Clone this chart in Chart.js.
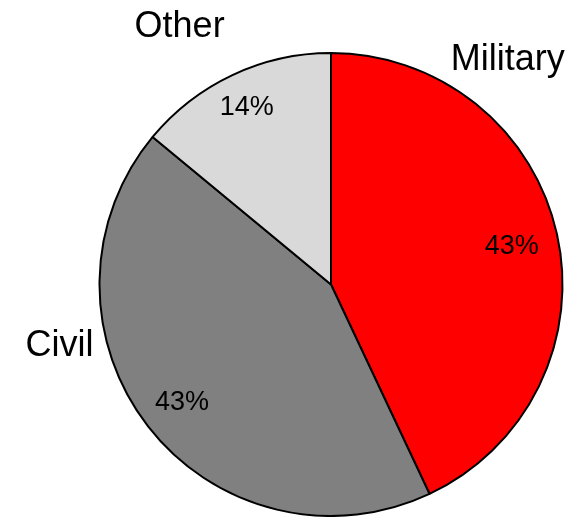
<!DOCTYPE html>
<html>
<head>
<meta charset="utf-8">
<script src="https://cdn.jsdelivr.net/npm/chart.js@4.4.1/dist/chart.umd.min.js"></script>
<style>
    html, body { margin: 0; padding: 0; background: #fff; }
    #wrap { width: 585px; height: 517px; }
</style>
</head>
<body>
<div id="wrap"><canvas id="chart" width="585" height="517"></canvas></div>
<script>
const categories = ["Military", "Civil", "Other"];
const shares = [43, 43, 14];
const colors = ["#ff0000", "#808080", "#d9d9d9"];

// where the category names sit: angle (deg, clockwise from top) and distance as a fraction of the radius
const namePlacement = [[37.8, 1.245], [257.8, 1.2], [329.8, 1.3]];
// distance of the percentage from the centre, fraction of the radius
const pctDistance = [0.80, 0.815, 0.855];

// draw text vertically centred on its cap height
function capText(ctx, text, x, y, size) {
    ctx.font = size + "px 'Liberation Sans', Arial, sans-serif";
    ctx.fillText(text, x, y + size * 0.358);
}

const sliceLabels = {
    id: "sliceLabels",
    afterDatasetsDraw(chart) {
        const ctx = chart.ctx;
        const meta = chart.getDatasetMeta(0);
        const total = shares.reduce((a, b) => a + b, 0);
        ctx.save();
        ctx.fillStyle = "#000";
        ctx.textAlign = "center";
        ctx.textBaseline = "alphabetic";
        meta.data.forEach((arc, i) => {
            const cx = arc.x, cy = arc.y, r = arc.outerRadius;
            // percentage inside the slice, on the middle angle
            const mid = (arc.startAngle + arc.endAngle) / 2;
            const pd = r * pctDistance[i];
            const pct = Math.round(shares[i] / total * 100) + "%";
            capText(ctx, pct, cx + Math.cos(mid) * pd, cy + Math.sin(mid) * pd, 27);

            // category name outside
            const a = (namePlacement[i][0] - 90) * Math.PI / 180;
            const d = r * namePlacement[i][1];
            capText(ctx, categories[i], cx + Math.cos(a) * d, cy + Math.sin(a) * d, 36);
        });
        ctx.restore();
    }
};

new Chart(document.getElementById("chart").getContext("2d"), {
    type: "pie",
    data: {
        labels: categories,
        datasets: [{
            data: shares,
            backgroundColor: colors,
            borderColor: "#000",
            borderWidth: 2
        }]
    },
    options: {
        responsive: false,
        animation: false,
        layout: { padding: { left: 98, right: 21, top: 52, bottom: 0 } },
        plugins: {
            legend: { display: false },
            tooltip: { enabled: false }
        }
    },
    plugins: [sliceLabels]
});
</script>
</body>
</html>
